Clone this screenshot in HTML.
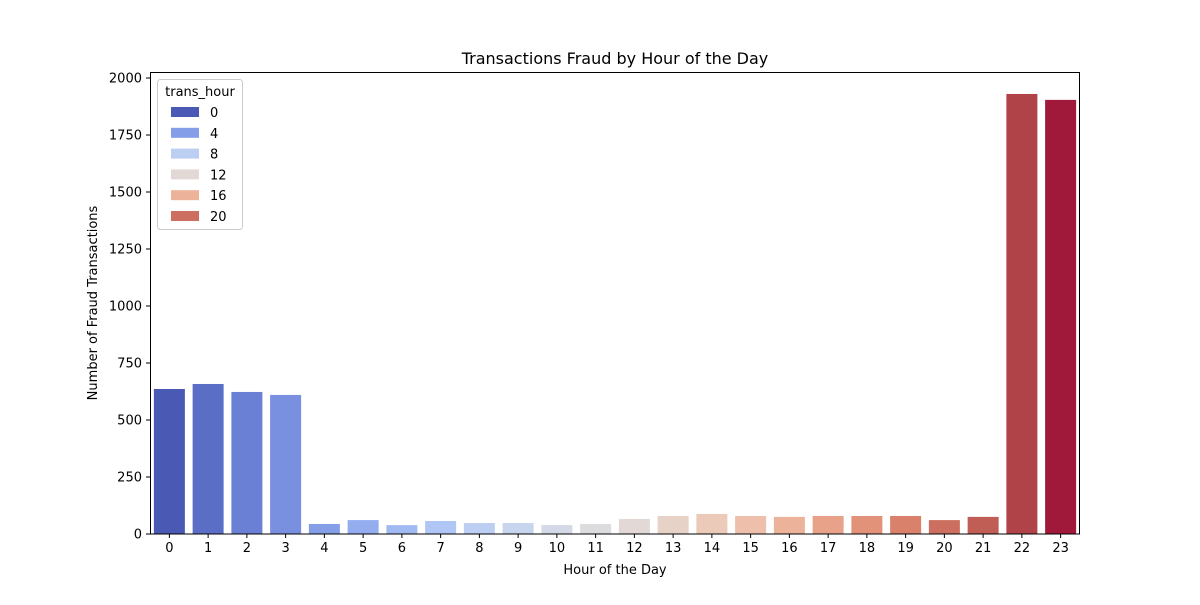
<!DOCTYPE html>
<html><head><meta charset="utf-8"><style>
html,body{margin:0;padding:0;background:#fff;}
svg text{font-family:"DejaVu Sans","Liberation Sans",sans-serif;fill:#000;}
</style></head><body>
<svg id="chart" width="1200" height="600" viewBox="0 0 1200 600">
<text x="615" y="64" font-size="16" text-anchor="middle">Transactions Fraud by Hour of the Day</text>
<g id="bars"></g>
<g id="axes"></g>
<rect x="150.5" y="72.5" width="929" height="461.5" fill="none" stroke="#000" stroke-width="1"/>
<text x="615" y="574" font-size="13" text-anchor="middle">Hour of the Day</text>
<text transform="translate(97,303) rotate(-90)" font-size="13" text-anchor="middle">Number of Fraud Transactions</text>
<g id="legend"></g>
</svg>
<script>
const hours=[0,1,2,3,4,5,6,7,8,9,10,11,12,13,14,15,16,17,18,19,20,21,22,23];
const counts=[636,658,623,610,44,61,39,57,48,48,39,44,66,79,88,79,75,79,79,79,61,75,1930,1904];
const colors=["#4a59b4","#5b6ec6","#6a80d5","#798fe0","#849fe7","#93adef","#a2baf2","#b0c6f4","#bccef2","#c8d5ee","#d3d9e6","#dcdcdf","#e2d9d6","#e7d2c8","#eccab9","#eebfaa","#ecb29a","#e8a28a","#e3927a","#da816c","#cd6f60","#c05d54","#b04347","#a0183a"];
const yTicks=[0,250,500,750,1000,1250,1500,1750,2000];
const legendLabels=[0,4,8,12,16,20];
const NS="http://www.w3.org/2000/svg";
const x0=150,x1=1080,yBase=534,yScale=0.228;
const step=(x1-x0)/hours.length;
const xc=i=>x0+step*(i+0.5);
const y=v=>yBase-v*yScale;
const bars=document.getElementById('bars'),axes=document.getElementById('axes'),legend=document.getElementById('legend');
function mk(tag,attrs,parent){const e=document.createElementNS(NS,tag);for(const k in attrs)e.setAttribute(k,attrs[k]);parent.appendChild(e);return e;}
hours.forEach((h,i)=>{
  const bw=step*0.8;
  const r=mk('rect',{x:xc(i)-bw/2,y:y(counts[i]),width:bw,height:counts[i]*yScale,fill:colors[i]},bars);
  
  
  const t=mk('line',{x1:xc(i),x2:xc(i),y1:yBase,y2:yBase+4,stroke:'#000'},axes);
  
  
  const l=mk('text',{x:xc(i),y:yBase+18,'font-size':13,'text-anchor':'middle'},axes);
  l.textContent=h;
  
  
});
yTicks.forEach(v=>{
  const t=mk('line',{x1:x0-4,x2:x0,y1:y(v),y2:y(v),stroke:'#000'},axes);
  
  
  const l=mk('text',{x:x0-8,y:y(v)+4.5,'font-size':13,'text-anchor':'end'},axes);
  l.textContent=v;
  
  
});
const box=mk('rect',{x:157.5,y:79.5,width:85,height:150,rx:3,fill:'#fff','fill-opacity':0.8,stroke:'#ccc'},legend);


const lt=mk('text',{x:200,y:96,'font-size':13,'text-anchor':'middle'},legend);
lt.textContent='trans_hour';


legendLabels.forEach((h,k)=>{
  const yy=112+k*20.8;
  const sw=mk('rect',{x:171,y:yy-5,width:28,height:10,fill:colors[h]},legend);
  
  
  const tx=mk('text',{x:210,y:yy+5,'font-size':13},legend);
  tx.textContent=h;
  
  
});
</script>
</body></html>
